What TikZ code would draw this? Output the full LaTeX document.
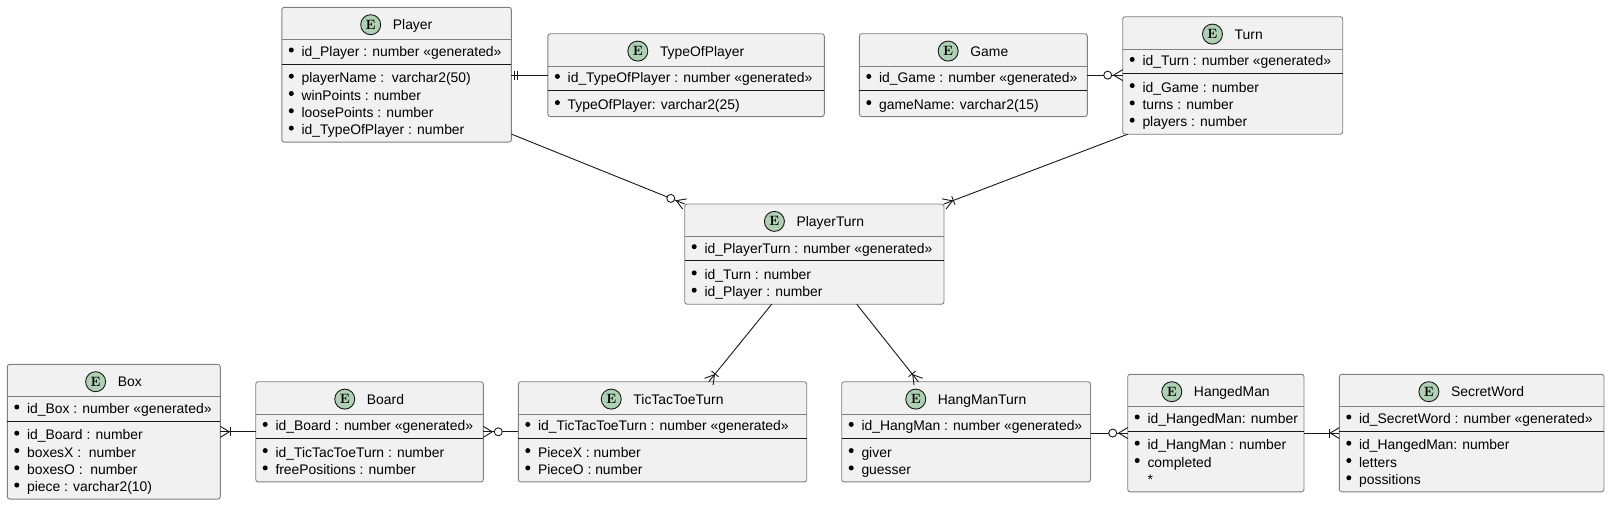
\documentclass[tikz,border=0pt]{standalone}
\usepackage{fontspec}
\newfontfamily\umlf{Liberation Sans}
\usetikzlibrary{calc}
\definecolor{entfill}{HTML}{F1F1F1}
\definecolor{entline}{HTML}{181818}
\definecolor{iconfill}{HTML}{ADD1B2}
\tikzset{
  entbox/.style={draw=entline!55, fill=entfill, line width=0.9pt, rounded corners=2.5pt, inner sep=0pt, outer sep=0pt},
  hdrline/.style={draw=entline!55, line width=0.9pt},
  sepline/.style={draw=entline, line width=1.1pt},
  ttl/.style={inner sep=0pt, text height=10pt, text depth=3pt, anchor=base, font=\umlf\fontsize{13.9pt}{17pt}\selectfont},
  attr/.style={inner sep=0pt, anchor=base west, font=\umlf\fontsize{13.9pt}{17pt}\selectfont},
  icon/.style={circle, draw=entline, line width=0.9pt, fill=iconfill, minimum size=20pt, inner sep=0pt, font=\fontsize{13.5pt}{12pt}\selectfont\bfseries},
  bul/.style={circle, fill=black, minimum size=5pt, inner sep=0pt},
  rel/.style={draw=entline, line width=0.9pt},
}
% #1 name, #2 x1, #3 x2, #4 top, #5 title, #6 pk, #7 attribute list, #8 number of rows
\newcommand\ent[8]{%
  \pgfmathsetmacro\enth{82.9+17.3*(#8-1)}%
  \pgfmathsetmacro\entw{#3-#2}%
  \node[entbox, minimum width=\entw pt, minimum height=\enth pt, anchor=north west] (#1) at (#2,#4) {};
  \draw[hdrline] ([yshift=-32.4pt]#1.north west) -- ([yshift=-32.4pt]#1.north east);
  \draw[sepline] ([yshift=-56.9pt]#1.north west) -- ([yshift=-56.9pt]#1.north east);
  \node[ttl] (#1-t) at ([xshift=16pt,yshift=-22.4pt]#1.north) {#5};
  \node[icon] (#1-i) at ([xshift=-22pt,yshift=1.5pt]#1-t.west) {E};
  \node[bul] (#1-b0) at ([xshift=9.5pt,yshift=-42.7pt]#1.north west) {};
  \node[attr] (#1-a0) at ([xshift=19.6pt,yshift=-49.2pt]#1.north west) {#6};
  \foreach \txt [count=\i] in {#7} {%
    \pgfmathsetmacro\yk{70.9+17.3*(\i-1)-2}%
    \pgfmathsetmacro\yb{70.9+17.3*(\i-1)+4.5}%
    \node[bul] (#1-b\i) at ([xshift=9.5pt,yshift=-\yk pt]#1.north west) {};
    \node[attr] (#1-a\i) at ([xshift=19.6pt,yshift=-\yb pt]#1.north west) {\txt};
  }%
}
% connector marks: #1 end point, #2 point the line comes from
\newcommand\crowfoot[2]{%
  \coordinate (apx) at ($(#1)!9pt!(#2)$);
  \draw[rel] (apx) -- ($(#1)!5.5pt!90:(#2)$);
  \draw[rel] (apx) -- ($(#1)!5.5pt!-90:(#2)$);
}
\newcommand\onebar[3]{%
  \coordinate (barc) at ($(#1)!#3!(#2)$);
  \draw[rel] ($(barc)!4.5pt!90:(#2)$) -- ($(barc)!4.5pt!-90:(#2)$);
}
\newcommand\zeroring[2]{%
  \coordinate (zc) at ($(#1)!15pt!(#2)$);
  \draw[rel, fill=white] (zc) circle[radius=4pt];
}
\begin{document}
\begin{tikzpicture}[x=1pt,y=-1pt]
\fill[white] (0,0) rectangle (1610,506);
\useasboundingbox (0,0) rectangle (1610,506);

\ent{player}{281.8}{511.4}{7.3}{Player}{id\_Player : number «generated»}{{playerName :\ \ varchar2(50)},{winPoints : number},{loosePoints : number},{id\_TypeOfPlayer : number}}{4}
\ent{typeofplayer}{547.9}{824.3}{33.7}{TypeOfPlayer}{id\_TypeOfPlayer : number «generated»}{{TypeOfPlayer: varchar2(25)}}{1}
\ent{game}{859.3}{1087.3}{33.7}{Game}{id\_Game : number «generated»}{{gameName: varchar2(15)}}{1}
\ent{turn}{1122.7}{1342.7}{16.7}{Turn}{id\_Turn : number «generated»}{{id\_Game : number},{turns : number},{players : number}}{3}
\ent{playerturn}{684.7}{944}{204}{PlayerTurn}{id\_PlayerTurn : number «generated»}{{id\_Turn : number},{id\_Player : number}}{2}
\ent{box}{7.3}{220.3}{364.3}{Box}{id\_Box : number «generated»}{{id\_Board : number},{boxesX :\ \ number},{boxesO :\ \ number},{piece : varchar2(10)}}{4}
\ent{board}{255.7}{483.3}{381.7}{Board}{id\_Board : number «generated»}{{id\_TicTacToeTurn : number},{freePositions : number}}{2}
\ent{tictactoe}{518.3}{806.7}{381.7}{TicTacToeTurn}{id\_TicTacToeTurn : number «generated»}{{PieceX : number},{PieceO : number}}{2}
\ent{hangmanturn}{841.7}{1090.5}{381.7}{HangManTurn}{id\_HangMan : number «generated»}{{giver},{guesser}}{2}
\ent{hangedman}{1127.7}{1304}{374.3}{HangedMan}{id\_HangedMan: number}{{id\_HangMan : number},{completed}}{3}
\node[attr] (hangedman-a3) at ([xshift=19.6pt,yshift=-110pt]hangedman.north west) {*};
\ent{secretword}{1339.3}{1604}{374.3}{SecretWord}{id\_SecretWord : number «generated»}{{id\_HangedMan: number},{letters},{possitions}}{3}

% Player -- TypeOfPlayer : || at Player
\coordinate (c1s) at (player.east |- typeofplayer.west);
\coordinate (c1e) at (typeofplayer.west);
\draw[rel] (c1s) -- (c1e);
\onebar{c1s}{c1e}{3pt}
\onebar{c1s}{c1e}{6.5pt}

% Game -- Turn : o< at Turn
\coordinate (c2s) at (game.east);
\coordinate (c2e) at (turn.west |- game.east);
\draw[rel] (c2s) -- (c2e);
\crowfoot{c2e}{c2s}
\zeroring{c2e}{c2s}

% Player -- PlayerTurn : o< at PlayerTurn
\coordinate (c3s) at ([yshift=8pt]player.south east);
\coordinate (c3e) at (playerturn.north west);
\draw[rel] (c3s) -- (c3e);
\crowfoot{c3e}{c3s}
\zeroring{c3e}{c3s}

% Turn -- PlayerTurn : |< at PlayerTurn
\coordinate (c4s) at ([xshift=5pt]turn.south west);
\coordinate (c4e) at (playerturn.north east);
\draw[rel] (c4s) -- (c4e);
\crowfoot{c4e}{c4s}
\onebar{c4e}{c4s}{10pt}

% PlayerTurn -- TicTacToeTurn : |< at TicTacToeTurn
\coordinate (c5s) at ([xshift=87pt]playerturn.south west);
\coordinate (c5e) at ([xshift=190.5pt]tictactoe.north west);
\draw[rel] (c5s) -- (c5e);
\crowfoot{c5e}{c5s}
\onebar{c5e}{c5s}{10pt}

% PlayerTurn -- HangManTurn : |< at HangManTurn
\coordinate (c6s) at ([xshift=172pt]playerturn.south west);
\coordinate (c6e) at ([xshift=76.6pt]hangmanturn.north west);
\draw[rel] (c6s) -- (c6e);
\crowfoot{c6e}{c6s}
\onebar{c6e}{c6s}{10pt}

% Box -- Board : >| at Box
\coordinate (c7s) at (box.east |- board.west);
\coordinate (c7e) at (board.west);
\draw[rel] (c7s) -- (c7e);
\crowfoot{c7s}{c7e}
\onebar{c7s}{c7e}{10pt}

% Board -- TicTacToeTurn : >o at Board
\coordinate (c8s) at (board.east);
\coordinate (c8e) at (tictactoe.west);
\draw[rel] (c8s) -- (c8e);
\crowfoot{c8s}{c8e}
\zeroring{c8s}{c8e}

% HangManTurn -- HangedMan : o< at HangedMan
\coordinate (c9s) at (hangmanturn.east |- hangedman.west);
\coordinate (c9e) at (hangedman.west);
\draw[rel] (c9s) -- (c9e);
\crowfoot{c9e}{c9s}
\zeroring{c9e}{c9s}

% HangedMan -- SecretWord : |< at SecretWord
\coordinate (c10s) at (hangedman.east);
\coordinate (c10e) at (secretword.west);
\draw[rel] (c10s) -- (c10e);
\crowfoot{c10e}{c10s}
\onebar{c10e}{c10s}{10pt}
\end{tikzpicture}
\end{document}
